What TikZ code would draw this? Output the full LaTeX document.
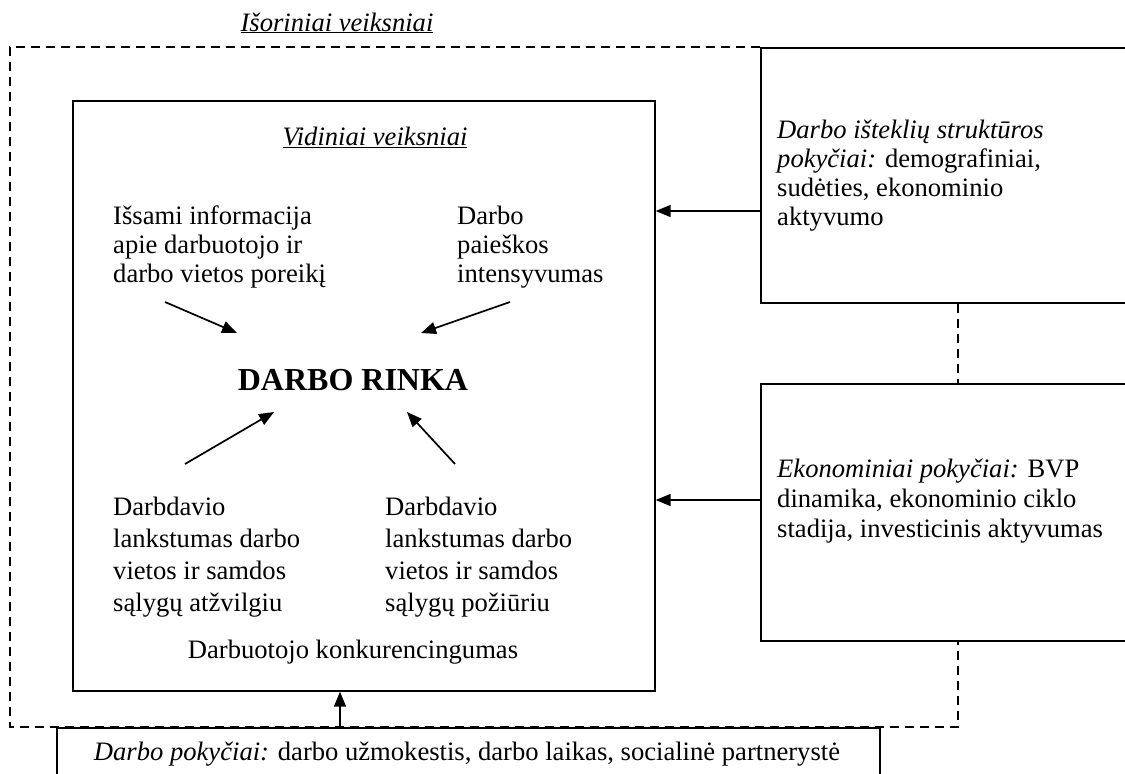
\documentclass[tikz,border=0pt]{standalone}
\usepackage{fontspec}
\setmainfont{Liberation Serif}
\usetikzlibrary{arrows.meta,calc}
\newcommand{\mlines}[1]{\begin{tabular}[t]{@{}l@{}}#1\end{tabular}}
\begin{document}
\begin{tikzpicture}[x=1pt,y=-1pt,
  txt/.style={font=\fontsize{26.6}{29}\selectfont, inner sep=0pt},
  txtb/.style={font=\fontsize{26.6}{30}\selectfont, inner sep=0pt},
  txtw/.style={font=\fontsize{26.6}{32}\selectfont, inner sep=0pt},
  solidbox/.style={draw, line width=1.7pt, inner sep=0pt, fill=white},
  dashline/.style={line width=1.4pt, dash pattern=on 9pt off 6pt},
  arr/.style={line width=1.7pt, -{Triangle[length=15pt,width=12pt]}}]
\useasboundingbox (0,0) rectangle (1125,774);
\clip (0,0) rectangle (1125,774);

% helper coordinates
\coordinate (dx) at (958,0);
\coordinate (y1) at (0,211);
\coordinate (y2) at (0,500);
\coordinate (x0) at (340,0);

% boxes
\node[solidbox, minimum width=582pt, minimum height=590pt, anchor=north west] (inner) at (72,100) {};
\node[solidbox, minimum width=380pt, minimum height=255pt, anchor=north west] (box1) at (760,47) {};
\node[solidbox, minimum width=380pt, minimum height=257pt, anchor=north west] (box2) at (760,383) {};

% outer dashed frame
\draw[dashline] (box1.north west) -- (10,47) -- (10,727) -- (958,727) -- (box2.south west -| dx);
\draw[dashline] (box1.south west -| dx) -- (box2.north west -| dx);

\node[solidbox, minimum width=823pt, minimum height=80pt, anchor=north west] (bottom) at (56,727) {};

% titles
\node[txt, anchor=base] (ext) at (337,31) {\underline{\textit{Išoriniai veiksniai}}};
\node[txt, anchor=base] (vid) at (375,145) {\underline{\textit{Vidiniai veiksniai}}};

% inner texts
\node[txt, anchor=base west] (info) at (113,224) {\mlines{Išsami informacija\\apie darbuotojo ir\\darbo vietos poreikį}};
\node[txt, anchor=base west] (search) at (457,224) {\mlines{Darbo\\paieškos\\intensyvumas}};
\node[font=\fontsize{32}{38}\selectfont\bfseries, inner sep=0pt, anchor=base] (rinka) at (353,390) {DARBO RINKA};
\node[txtw, anchor=base west] (emp1) at (113,515) {\mlines{Darbdavio\\lankstumas darbo\\vietos ir samdos\\sąlygų atžvilgiu}};
\node[txtw, anchor=base west] (emp2) at (385,515) {\mlines{Darbdavio\\lankstumas darbo\\vietos ir samdos\\sąlygų požiūriu}};
\node[txt, anchor=base] (konk) at (353,658) {Darbuotojo konkurencingumas};

% right texts
\node[txt, anchor=base west] (t1) at (777,138) {\mlines{\textit{Darbo išteklių struktūros}\\\textit{pokyčiai:} demografiniai,\\sudėties, ekonominio\\aktyvumo}};
\node[txtb, anchor=base west] (t2) at (777,477) {\mlines{\textit{Ekonominiai pokyčiai:} BVP\\dinamika, ekonominio ciklo\\stadija, investicinis aktyvumas}};
\node[txt, anchor=base] (t3) at (467,760) {\textit{Darbo pokyčiai:} darbo užmokestis, darbo laikas, socialinė partnerystė};

% inner arrow ends
\coordinate (a1s) at (165,302); \coordinate (a1e) at (237,333);
\coordinate (a2s) at (510,302); \coordinate (a2e) at (421,333);
\coordinate (a3s) at (185,464); \coordinate (a3e) at (274,412);
\coordinate (a4s) at (455,464); \coordinate (a4e) at (407,412);
\draw[arr] (a1s) -- (a1e);
\draw[arr] (a2s) -- (a2e);
\draw[arr] (a3s) -- (a3e);
\draw[arr] (a4s) -- (a4e);

% connectors
\draw[arr] (box1.west |- y1) -- (inner.east |- y1);
\draw[arr] (box2.west |- y2) -- (inner.east |- y2);
\draw[arr] (bottom.north -| x0) -- (inner.south -| x0);
\end{tikzpicture}
\end{document}
